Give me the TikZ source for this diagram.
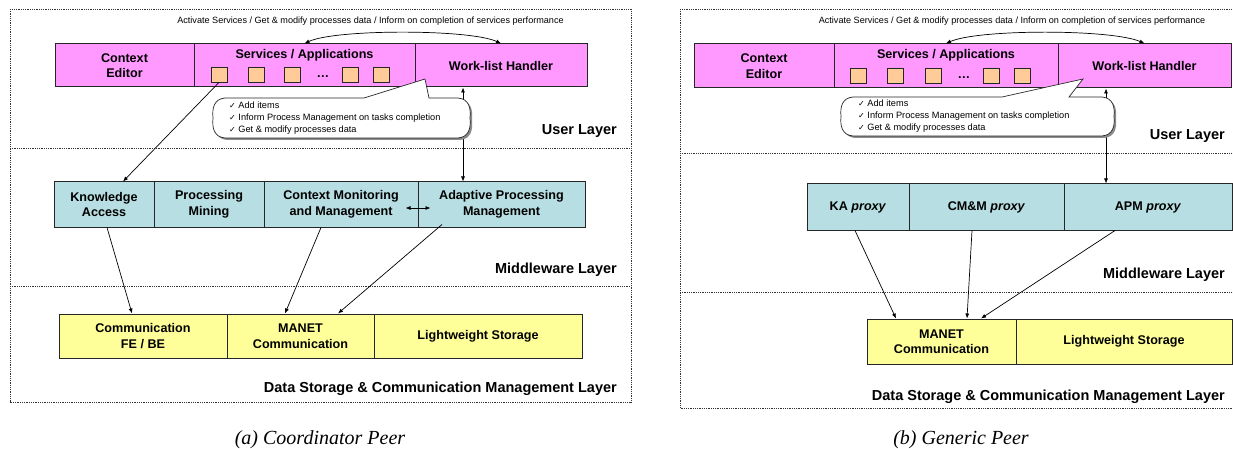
\documentclass[tikz,border=0pt]{standalone}
\usepackage{fontspec}
\setmainfont{Liberation Sans}
\newfontfamily\capfont{Liberation Serif}
\newfontfamily\chkfont{DejaVu Sans}
\usetikzlibrary{arrows.meta}
\definecolor{pinkfill}{RGB}{255,153,255}
\definecolor{tealfill}{RGB}{183,222,226}
\definecolor{yelfill}{RGB}{255,255,153}
\definecolor{sqfill}{RGB}{255,204,153}
\newcommand\ckm{{\chkfont\fontsize{8}{12}\selectfont\char"2713}\ }
\begin{document}
\begin{tikzpicture}[x=1pt,y=-1pt,
  cell/.style={draw=black!85, line width=1pt, inner sep=0pt, align=center,
    font=\fontsize{12.6}{15.5}\selectfont\bfseries},
  pinkcell/.style={cell, fill=pinkfill},
  tealcell/.style={cell, fill=tealfill},
  yelcell/.style={cell, fill=yelfill},
  sq/.style={draw=black!85, line width=0.8pt, fill=sqfill, minimum width=16pt, minimum height=15pt, inner sep=0pt},
  frame/.style={densely dotted, line width=0.8pt, black!80},
  arr/.style={-{Latex[length=5pt,width=4pt]}, line width=0.7pt},
  dbl/.style={{Latex[length=5pt,width=4pt]}-{Latex[length=5pt,width=4pt]}, line width=0.7pt},
  lay/.style={anchor=base east, inner sep=0pt, font=\fontsize{14.5}{17}\selectfont\bfseries},
  note/.style={inner sep=0pt, font=\fontsize{9.1}{11}\selectfont},
  bubtext/.style={inner sep=0pt, anchor=west, align=left, font=\fontsize{9.2}{12}\selectfont},
  bubble/.style={draw=black!85, line width=0.7pt, fill=white},
  bshadow/.style={fill=black!45},
  captext/.style={inner sep=0pt, font=\capfont\itshape\fontsize{20}{24}\selectfont}
]
\useasboundingbox (0,0) rectangle (1233,449);

% ---------------- frames ----------------
\draw[frame] (10,9) rectangle (631,402);
\draw[frame] (10,148) -- (631,148);
\draw[frame] (10,286) -- (631,286);
\draw[frame] (680,9) rectangle (1240,408);
\draw[frame] (680,153) -- (1240,153);
\draw[frame] (680,292) -- (1240,292);

% ================= LEFT PANEL =================
\node[note] (topa) at (370.5,21) {Activate Services / Get \& modify processes data / Inform on completion of services performance};

\node[pinkcell, minimum width=139pt, minimum height=43pt] (ce) at (124.5,65.5) {Context\\Editor};
\node[pinkcell, minimum width=221pt, minimum height=43pt] (svc) at (304.5,65.5) {};
\node[pinkcell, minimum width=172pt, minimum height=43pt] (wl) at (501,65.5) {Work-list Handler};
\node[inner sep=0pt, font=\fontsize{12.6}{15}\selectfont\bfseries] (svct) at (304.5,55) {Services / Applications};
\node[sq] (sq1) at (219,74.5) {};
\node[sq] (sq2) at (256,74.5) {};
\node[sq] (sq3) at (292.5,74.5) {};
\node[inner sep=0pt, font=\fontsize{12.6}{15}\selectfont\bfseries] (dots) at (323,77) {\dots};
\node[sq] (sq4) at (350,74.5) {};
\node[sq] (sq5) at (381.5,74.5) {};

\node[tealcell, minimum width=100pt, minimum height=45pt] (ka) at (104,204.5) {Knowledge\\Access};
\node[tealcell, minimum width=110pt, minimum height=45pt] (pm) at (209,204.5) {Processing\\Mining};
\node[tealcell, minimum width=154pt, minimum height=45pt] (cmm) at (341,204.5) {Context Monitoring\\and Management};
\node[tealcell, minimum width=167pt, minimum height=45pt] (apm) at (501.5,204.5) {Adaptive Processing\\Management};

\node[yelcell, minimum width=168pt, minimum height=44pt] (cfe) at (143,336) {Communication\\FE / BE};
\node[yelcell, minimum width=147pt, minimum height=44pt] (manet) at (300.5,336) {MANET\\Communication};
\node[yelcell, minimum width=208pt, minimum height=44pt] (lws) at (478,336) {Lightweight Storage};

\node[lay] (ula) at (617,135) {User Layer};
\node[lay] (mla) at (617,273) {Middleware Layer};
\node[lay] (dla) at (617,392) {Data Storage \& Communication Management Layer};

\draw[dbl] (svc.north) .. controls (335,29) and (470,29) .. (wl.north);
\draw[arr] (sq1.south) -- ([xshift=19pt]ka.north);
\draw[dbl] ([xshift=-38pt]wl.south) -- ([xshift=-38.5pt]apm.north);
\draw[dbl] ([xshift=-13pt,yshift=-3.5pt]cmm.east) -- ([xshift=13pt,yshift=-3.5pt]apm.west);
\draw[arr] ([xshift=3pt]ka.south) -- ([xshift=-11pt]cfe.north);
\draw[arr] ([xshift=-20pt]cmm.south) -- ([xshift=-15.5pt]manet.north);
\draw[arr] ([xshift=-59.5pt,yshift=3pt]apm.south) -- ([xshift=37.5pt]manet.north);

% bubble (left)
\fill[bshadow] (431,100) -- (460,100) .. controls (471,101) and (473,110) .. (472,120) .. controls (473,130) and (471,139) .. (460,140) -- (227,140) .. controls (216,139) and (214,130) .. (215,120) .. controls (214,110) and (216,101) .. (227,100) -- cycle;
\draw[bubble] (429,98) -- (458,98) .. controls (469,99) and (471,108) .. (470,118) .. controls (471,128) and (469,137) .. (458,138) -- (225,138) .. controls (214,137) and (212,128) .. (213,118) .. controls (212,108) and (214,99) .. (225,98) -- (364,98) -- (425,79) -- cycle;
\node[bubtext] (bta) at (229,118) {\ckm Add items\\\ckm Inform Process Management on tasks completion\\\ckm Get \& modify processes data};

\node[captext] (capa) at (320,440) {(a) Coordinator Peer};

% ================= RIGHT PANEL =================
\node[note] (topb) at (1012,21) {Activate Services / Get \& modify processes data / Inform on completion of services performance};

\node[pinkcell, minimum width=140pt, minimum height=44pt] (ce2) at (764,66) {Context\\Editor};
\node[pinkcell, minimum width=224pt, minimum height=44pt] (svc2) at (946,66) {};
\node[pinkcell, minimum width=173pt, minimum height=44pt] (wl2) at (1144.5,66) {Work-list Handler};
\node[inner sep=0pt, font=\fontsize{12.6}{15}\selectfont\bfseries] (svct2) at (946,55) {Services / Applications};
\node[sq] (sqb1) at (858.5,75.5) {};
\node[sq] (sqb2) at (895.5,75.5) {};
\node[sq] (sqb3) at (933,75.5) {};
\node[inner sep=0pt, font=\fontsize{12.6}{15}\selectfont\bfseries] (dots2) at (964,78) {\dots};
\node[sq] (sqb4) at (991.5,75.5) {};
\node[sq] (sqb5) at (1022.5,75.5) {};

\node[tealcell, minimum width=102pt, minimum height=46pt] (ka2) at (858,207) {KA \textit{proxy}};
\node[tealcell, minimum width=155pt, minimum height=46pt] (cmm2) at (986.5,207) {CM\&M \textit{proxy}};
\node[tealcell, minimum width=168pt, minimum height=46pt] (apm2) at (1148,207) {APM \textit{proxy}};

\node[yelcell, minimum width=149pt, minimum height=45pt] (manet2) at (941.5,341.5) {MANET\\Communication};
\node[yelcell, minimum width=216pt, minimum height=45pt] (lws2) at (1124,341.5) {Lightweight Storage};

\node[lay] (ulb) at (1225,140) {User Layer};
\node[lay] (mlb) at (1225,278) {Middleware Layer};
\node[lay] (dlb) at (1225,400) {Data Storage \& Communication Management Layer};

\draw[dbl] (svc2.north) .. controls (978,29) and (1112,29) .. (wl2.north);
\draw[dbl] ([xshift=-38.5pt]wl2.south) -- ([xshift=-42pt]apm2.north);
\draw[arr] ([xshift=-3pt]ka2.south) -- ([xshift=-45.5pt]manet2.north);
\draw[arr] ([xshift=-14.5pt]cmm2.south) -- ([xshift=25.5pt]manet2.north);
\draw[arr] ([xshift=-33pt]apm2.south) -- ([xshift=39.5pt]manet2.north);

% bubble (right)
\fill[bshadow] (1071,99) -- (1104,99) .. controls (1115,100) and (1117,109) .. (1116,118.5) .. controls (1117,128) and (1115,137) .. (1104,138) -- (855,138) .. controls (844,137) and (842,128) .. (843,118.5) .. controls (842,109) and (844,100) .. (855,99) -- cycle;
\draw[bubble] (1069,97) -- (1102,97) .. controls (1113,98) and (1115,107) .. (1114,116.5) .. controls (1115,126) and (1113,135) .. (1102,136) -- (853,136) .. controls (842,135) and (840,126) .. (841,116.5) .. controls (840,107) and (842,98) .. (853,97) -- (1002,97) -- (1083,79) -- cycle;
\node[bubtext] (btb) at (858,116.5) {\ckm Add items\\\ckm Inform Process Management on tasks completion\\\ckm Get \& modify processes data};

\node[captext] (capb) at (961,440) {(b) Generic Peer};
\end{tikzpicture}
\end{document}
